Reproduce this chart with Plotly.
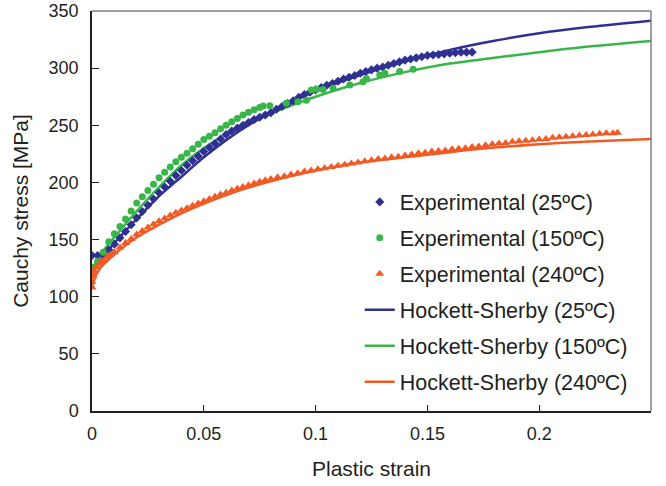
import plotly.graph_objects as go

# ---------------- data ----------------
# Experimental (25ºC)
exp25_strain = [0, 0.0025, 0.005, 0.0075, 0.01, 0.0125, 0.015, 0.0175, 0.02, 0.0225,
                0.025, 0.0275, 0.03, 0.0325, 0.035, 0.0375, 0.04, 0.0425, 0.045, 0.0475,
                0.05, 0.0525, 0.055, 0.0575, 0.06, 0.0625, 0.065, 0.0675, 0.07, 0.0725,
                0.075, 0.0775, 0.08, 0.0825, 0.085, 0.0875, 0.09, 0.0925, 0.095, 0.0975,
                0.1, 0.1025, 0.105, 0.1075, 0.11, 0.1125, 0.115, 0.1175, 0.12, 0.1225,
                0.125, 0.1275, 0.13, 0.1325, 0.135, 0.1375, 0.14, 0.1425, 0.145, 0.1475,
                0.15, 0.1525, 0.155, 0.1575, 0.16, 0.1625, 0.165, 0.1675, 0.17]
exp25_stress = [136, 136, 137, 141, 146, 151.5, 157, 163, 169, 174.5,
                180, 185.5, 191, 196, 201, 206, 210.5, 215, 219, 223,
                227, 230.5, 234, 238, 242, 245, 247.5, 250, 252.5, 255,
                257, 259, 261, 264, 266.5, 269, 271.5, 274.5, 277, 279,
                281, 283, 285, 286.5, 288.5, 290.5, 292, 293.5, 295.5, 297,
                298.5, 300, 301, 302.5, 304, 305.5, 307, 308, 309, 310,
                311, 311.5, 312, 312.5, 313, 313.5, 314, 314, 314]

# Experimental (150ºC)
exp150_strain = [0.001, 0.0025, 0.005, 0.0075, 0.01, 0.0125, 0.015, 0.0175, 0.02, 0.0225,
                 0.025, 0.0275, 0.03, 0.0325, 0.035, 0.0375, 0.04, 0.0425, 0.045, 0.0475,
                 0.05, 0.0525, 0.055, 0.0575, 0.06, 0.0625, 0.065, 0.0675, 0.07, 0.0725,
                 0.075, 0.0765, 0.0795, 0.0869, 0.0921, 0.0959, 0.0981, 0.1005, 0.1033,
                 0.1078, 0.1153, 0.1212, 0.1227, 0.1287, 0.131, 0.1376, 0.1436]
exp150_stress = [126, 131, 139, 148, 155, 161.5, 168, 175, 182, 187.5,
                 193, 198.5, 204, 209, 213.5, 218, 222, 225.5, 229.5, 233.5,
                 237.5, 240.5, 243.5, 247, 250, 253, 256, 259, 261.5, 263.5,
                 265.5, 266.9, 267.2, 269.2, 270.7, 272, 280.9, 281.5, 281.4,
                 282.3, 285.2, 288.2, 291, 294, 295.5, 297, 299]

# Experimental (240ºC)
exp240_strain = [0, 0, 0.0005, 0.001, 0.002, 0.003, 0.004, 0.005, 0.0065, 0.008,
                 0.01, 0.0125, 0.015, 0.0175, 0.02, 0.0225, 0.025, 0.0275, 0.03, 0.0325,
                 0.035, 0.0375, 0.04, 0.0425, 0.045, 0.0475, 0.05, 0.0525, 0.055, 0.0575,
                 0.06, 0.0625, 0.065, 0.0675, 0.07, 0.0725, 0.075, 0.0775, 0.08, 0.083,
                 0.086, 0.089, 0.092, 0.095, 0.098, 0.101, 0.104, 0.107, 0.11, 0.113,
                 0.116, 0.119, 0.122, 0.125, 0.128, 0.131, 0.134, 0.137, 0.14, 0.143,
                 0.146, 0.149, 0.152, 0.155, 0.158, 0.161, 0.164, 0.167, 0.17, 0.173,
                 0.176, 0.179, 0.182, 0.185, 0.188, 0.191, 0.194, 0.197, 0.2, 0.203,
                 0.206, 0.209, 0.212, 0.215, 0.218, 0.221, 0.224, 0.227, 0.23, 0.233, 0.235]
exp240_stress = [108, 113, 118, 122, 126, 128.5, 130, 131.5, 134, 136.5,
                 139, 143, 147, 150.5, 154.5, 157.5, 160.5, 163.5, 166, 168.5,
                 171, 173.5, 175.5, 177.5, 179.5, 181.5, 183.5, 185.5, 187.5, 189.5,
                 191, 193, 194.5, 196, 197.5, 199, 200.5, 202, 203, 204.5,
                 205.5, 207, 208, 209.5, 210.5, 211.5, 212.5, 213.5, 214.5, 215.5,
                 216.5, 217.5, 218.5, 219.5, 220.5, 221, 222, 222.5, 223.5, 224.5,
                 225.5, 226, 227, 227.5, 228, 229, 229.5, 230, 231, 231.5,
                 232.5, 233.5, 234, 234.5, 235.5, 236, 236.5, 237, 237.5, 238,
                 239, 239.5, 240, 240.5, 241, 241.5, 242, 242.5, 243, 243, 243.5]

# Hockett-Sherby fits
hs_strain = [0, 0.002, 0.005, 0.01, 0.02, 0.03, 0.04, 0.05, 0.06, 0.07, 0.08, 0.09, 0.1,
             0.12, 0.14, 0.16, 0.18, 0.2, 0.22, 0.25]
hs25_stress = [118, 127, 135, 147, 168, 188, 205, 222, 237, 250, 261, 271, 280,
               294, 306, 316, 324, 330.5, 335.5, 341.5]
hs150_stress = [122, 131, 140, 152, 175, 196, 215, 230, 242, 252, 260.5, 268, 275,
                287, 296.5, 304, 309, 314, 318.5, 323.75]
hs240_stress = [108, 120, 128, 137, 152, 163, 173, 181.5, 189, 195.5, 201, 206, 210.5,
                217.5, 222, 226.5, 230.5, 233.5, 235.7, 238]

x_ticks = [0, 0.05, 0.1, 0.15, 0.2, 0.25]
x_tick_labels = ["0", "0.05", "0.1", "0.15", "0.2", "0.25"]
y_ticks = [0, 50, 100, 150, 200, 250, 300, 350]

BLUE = "#2e3192"
GREEN = "#39b54a"
ORANGE = "#f15a24"
FONT = "Arial, Liberation Sans, sans-serif"
TXT = "#231f20"

fig = go.Figure()

# lines first (drawn underneath), legend order fixed via legendrank
for name, ys, col, rank in [("Hockett-Sherby (25ºC)", hs25_stress, BLUE, 4),
                            ("Hockett-Sherby (150ºC)", hs150_stress, GREEN, 5),
                            ("Hockett-Sherby (240ºC)", hs240_stress, ORANGE, 6)]:
    fig.add_trace(go.Scatter(x=hs_strain, y=ys, mode="lines", name=name,
                             line=dict(color=col, width=2.5, shape="spline", smoothing=0.8),
                             legendrank=rank, legendgroup=name))

fig.add_trace(go.Scatter(x=exp25_strain, y=exp25_stress, mode="markers",
                         name="Experimental (25ºC)", legendrank=1, legendgroup="e25",
                         marker=dict(symbol="diamond", size=7, color=BLUE)))
fig.add_trace(go.Scatter(x=exp150_strain, y=exp150_stress, mode="markers",
                         name="Experimental (150ºC)", legendrank=2, legendgroup="e150",
                         marker=dict(symbol="circle", size=7, color=GREEN)))
fig.add_trace(go.Scatter(x=exp240_strain, y=exp240_stress, mode="markers",
                         name="Experimental (240ºC)", legendrank=3, legendgroup="e240",
                         marker=dict(symbol="triangle-up", size=8, color=ORANGE)))

fig.update_layout(
    width=666, height=486,
    margin=dict(l=92, r=15, t=11, b=75),
    plot_bgcolor="white", paper_bgcolor="white",
    font=dict(family=FONT, size=18, color=TXT),
    legend=dict(x=0.479, y=0.574, xanchor="left", yanchor="top",
                bgcolor="rgba(0,0,0,0)", font=dict(size=21.5, color=TXT),
                traceorder="grouped", tracegroupgap=5, itemwidth=30),
    showlegend=True,
)
fig.update_xaxes(range=[0, 0.25], tickvals=x_ticks, ticktext=x_tick_labels,
                 ticks="inside", ticklen=6, tickcolor=TXT, tickwidth=1,
                 ticklabelstandoff=6, automargin=False,
                 showline=True, linecolor=TXT, linewidth=1.5, showgrid=False, zeroline=False,
                 title=dict(text="Plastic strain", font=dict(size=21), standoff=18))
fig.update_yaxes(range=[0, 350], tickvals=y_ticks,
                 ticks="inside", ticklen=7, tickcolor=TXT, tickwidth=1,
                 ticklabelstandoff=8, automargin=False,
                 showline=True, linecolor=TXT, linewidth=1.5, showgrid=False, zeroline=False,
                 title=dict(text="Cauchy stress [MPa]", font=dict(size=21), standoff=14))

# grey frame on top/right
fig.add_shape(type="line", xref="paper", yref="paper", x0=0, x1=1, y0=1, y1=1,
              line=dict(color="#808080", width=1.5))
fig.add_shape(type="line", xref="paper", yref="paper", x0=1, x1=1, y0=0, y1=1,
              line=dict(color="#808080", width=1.5))

fig.write_html("out.html")
